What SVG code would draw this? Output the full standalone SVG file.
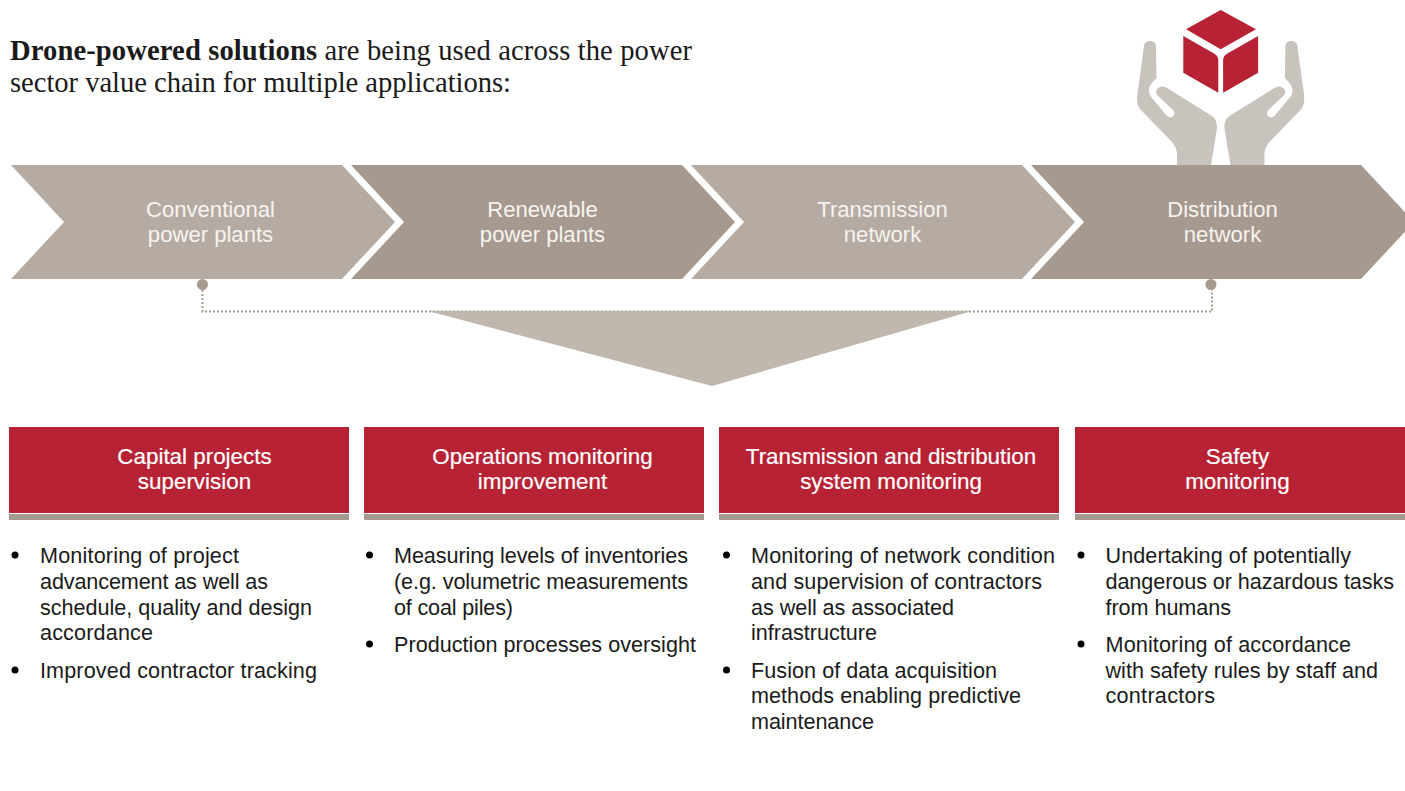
<svg xmlns="http://www.w3.org/2000/svg" xmlns:xlink="http://www.w3.org/1999/xlink" width="1405" height="791" viewBox="0 0 1405 791">
<style>
text{font-family:"Liberation Sans",Arial,sans-serif;font-size:21.6px}
.title{font-family:"Liberation Serif","Times New Roman",serif;font-size:28.6px;fill:#1a1a1a}
.c{fill:#f6f4f1;text-anchor:middle;font-size:22.1px}
.h{fill:#fff;text-anchor:middle;font-size:22.4px;stroke:#fff;stroke-width:.2px}
.b{fill:#1a1a1a}
.light{fill:#b6aba2}
.dark{fill:#a6998f}
.red{fill:#b72234}
.hand{fill:#c9c3bd}
.dot{fill:#a6998f}
.bar{fill:#a6998f}
</style>
<defs>
<path id="hand" class="hand" d="M1150 41C1154 41 1156 43 1156 47L1156.500 78C1153 82 1149 85 1149 90C1149 94 1150 96 1152 98L1167 116C1170 118 1172 118 1174 115C1175 113 1174 111 1172 109L1158 96C1155 93 1156 88 1160 87C1163 86 1165 87 1167 88L1212 116C1216 119 1217 123 1217 128L1211 165L1177 165L1177 155C1177 149 1175 146 1172 142L1140 109C1137 105 1137 100 1137.300 95L1144 46C1144 43 1147 41 1150 41Z"/>
<path id="face" class="red" d="M1183.300 36L1214 53.500C1217 55.500 1218.300 57 1218.300 61L1218.300 92.700L1183.300 72.700Z"/>
</defs>
<g id="heading">
<text class="title" x="10" y="60" textLength="682"><tspan font-weight="700">Drone-powered solutions</tspan> are being used across the power</text>
<text class="title" x="10" y="92" textLength="501">sector value chain for multiple applications:</text>
</g>
<g id="icon">
<use xlink:href="#hand" href="#hand"/>
<use xlink:href="#hand" href="#hand" transform="translate(2441.400 0) scale(-1 1)"/>
<path class="red" d="M1220.700 10L1256 29.300L1220.700 49.300L1186 29.300Z"/>
<use xlink:href="#face" href="#face"/>
<use xlink:href="#face" href="#face" transform="translate(2441.400 0) scale(-1 1)"/>
</g>
<g id="connectors">
<path d="M202.500 290V311.500H1212V290" fill="none" stroke="#a6998f" stroke-width="2" stroke-dasharray="2 2"/>
<circle class="dot" cx="202.500" cy="284.500" r="5.500"/>
<circle class="dot" cx="1211" cy="284.500" r="5.500"/>
</g>
<polygon id="funnel" fill="#c0b7ae" points="428,311 972,311 712,386"/>
<g id="stage-1"><polygon class="light" points="11,165 342,165 395,222 342,279 11,279 64,222"/><text class="c" x="210.500" y="217">Conventional</text><text class="c" x="210.500" y="242">power plants</text></g>
<g id="stage-2"><polygon class="dark" points="351,165 682,165 735,222 682,279 351,279 404,222"/><text class="c" x="542.500" y="217">Renewable</text><text class="c" x="542.500" y="242">power plants</text></g>
<g id="stage-3"><polygon class="light" points="691,165 1022,165 1075,222 1022,279 691,279 744,222"/><text class="c" x="882.500" y="217">Transmission</text><text class="c" x="882.500" y="242">network</text></g>
<g id="stage-4"><polygon class="dark" points="1031,165 1361,165 1414,222 1361,279 1031,279 1084,222"/><text class="c" x="1222.500" y="217">Distribution</text><text class="c" x="1222.500" y="242">network</text></g>
<g id="card-1"><rect class="red" x="9" y="427" width="340" height="86"/><rect class="bar" x="9" y="514" width="340" height="6"/><text class="h" x="194.500" y="464">Capital projects</text><text class="h" x="194.500" y="489">supervision</text>
<circle cx="15" cy="555" r="3.500"/>
<text class="b" x="40" y="563" textLength="199">Monitoring of project</text><text class="b" x="40" y="589" textLength="228">advancement as well as</text><text class="b" x="40" y="615" textLength="272">schedule, quality and design</text><text class="b" x="40" y="640" textLength="113">accordance</text>
<circle cx="15" cy="670" r="3.500"/><text class="b" x="40" y="678" textLength="277">Improved contractor tracking</text></g>
<g id="card-2"><rect class="red" x="364" y="427" width="340" height="86"/><rect class="bar" x="364" y="514" width="340" height="6"/><text class="h" x="542.500" y="464">Operations monitoring</text><text class="h" x="542.500" y="489">improvement</text>
<circle cx="369.500" cy="555" r="3.500"/>
<text class="b" x="394" y="563" textLength="294">Measuring levels of inventories</text><text class="b" x="394" y="589" textLength="294">(e.g. volumetric measurements</text><text class="b" x="394" y="615" textLength="119">of coal piles)</text>
<circle cx="369.500" cy="644" r="3.500"/><text class="b" x="394" y="652" textLength="302">Production processes oversight</text></g>
<g id="card-3"><rect class="red" x="719" y="427" width="340" height="86"/><rect class="bar" x="719" y="514" width="340" height="6"/><text class="h" x="891" y="464">Transmission and distribution</text><text class="h" x="891" y="489">system monitoring</text>
<circle cx="726.500" cy="555" r="3.500"/>
<text class="b" x="751" y="563" textLength="304">Monitoring of network condition</text><text class="b" x="751" y="589" textLength="291">and supervision of contractors</text><text class="b" x="751" y="615" textLength="203">as well as associated</text><text class="b" x="751" y="640" textLength="126">infrastructure</text>
<circle cx="726.500" cy="670" r="3.500"/><text class="b" x="751" y="678" textLength="246">Fusion of data acquisition</text><text class="b" x="751" y="703" textLength="270">methods enabling predictive</text><text class="b" x="751" y="729" textLength="123">maintenance</text></g>
<g id="card-4"><rect class="red" x="1075" y="427" width="330" height="86"/><rect class="bar" x="1075" y="514" width="330" height="6"/><text class="h" x="1237.500" y="464">Safety</text><text class="h" x="1237.500" y="489">monitoring</text>
<circle cx="1081" cy="555" r="3.500"/>
<text class="b" x="1105.500" y="563" textLength="245.500">Undertaking of potentially</text><text class="b" x="1105.500" y="589" textLength="288.500">dangerous or hazardous tasks</text><text class="b" x="1105.500" y="615" textLength="125.500">from humans</text>
<circle cx="1081" cy="644" r="3.500"/><text class="b" x="1105.500" y="652" textLength="245.500">Monitoring of accordance</text><text class="b" x="1105.500" y="678" textLength="272.500">with safety rules by staff and</text><text class="b" x="1105.500" y="703" textLength="109.500">contractors</text></g>
</svg>
